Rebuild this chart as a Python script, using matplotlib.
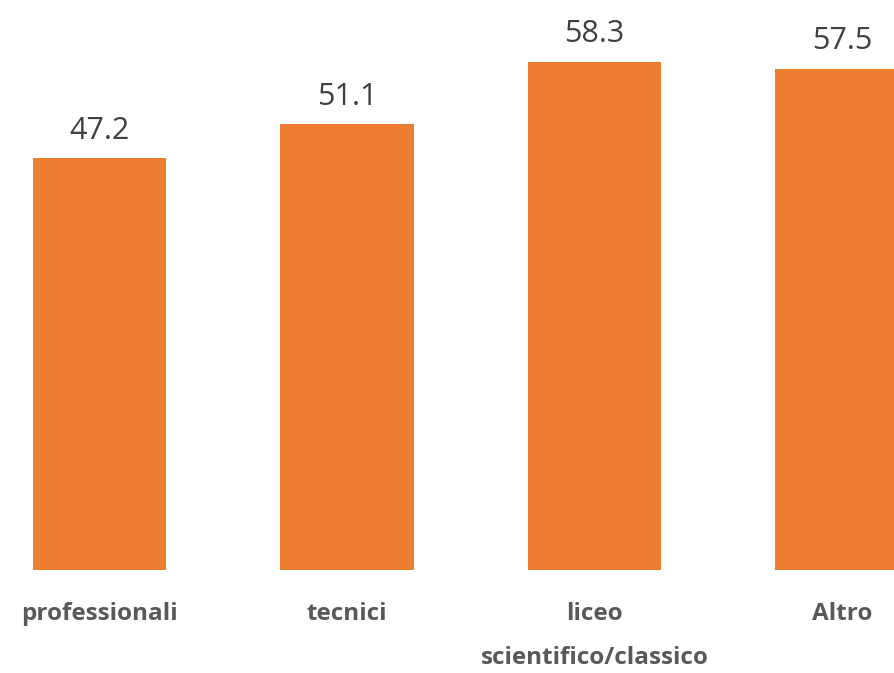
import matplotlib
matplotlib.use("Agg")
import matplotlib.pyplot as plt

categories = ["professionali", "tecnici", "liceo\nscientifico/classico", "Altro"]
values = [47.2, 51.1, 58.3, 57.5]
value_labels = ["47.2", "51.1", "58.3", "57.5"]

W, H = 894, 673
fig = plt.figure(figsize=(W / 100, H / 100), dpi=100)
base = 570
top = 3
ax = fig.add_axes([0, (H - base) / H, 1, (base - top) / H])

x = list(range(len(categories)))
ax.bar(x, values, width=0.54, color="#ED7D31")
spacing = 247.5
c0 = 99.5
ax.set_xlim(-c0 / spacing, (W - c0) / spacing)
ax.set_ylim(0, (base - top) / 8.72)

for xi, v, lab in zip(x, values, value_labels):
    ax.annotate(lab, (xi, v), xytext=(0, 9), textcoords="offset points",
                ha="center", va="bottom", fontsize=22, color="#404040",
                family="Open Sans")

ax.set_xticks(x)
ax.set_xticklabels(categories, fontsize=17.5, fontweight="bold", color="#595959",
                   family="Open Sans", linespacing=2.1)
ax.tick_params(axis="x", length=0, pad=23)
ax.set_yticks([])
for s in ax.spines.values():
    s.set_visible(False)

fig.savefig("out.png", dpi=100)
